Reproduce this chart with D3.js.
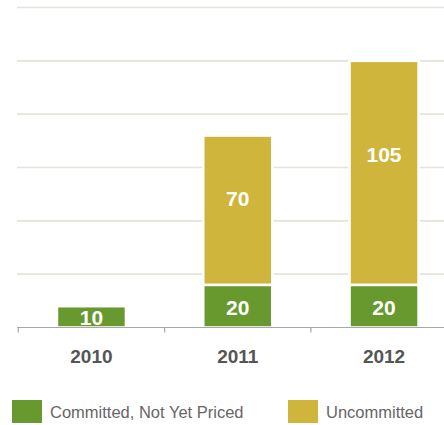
<!DOCTYPE html>
<html>
<head>
<meta charset="utf-8">
<script src="https://cdn.jsdelivr.net/npm/d3@7/dist/d3.min.js"></script>
<style>
  html, body { margin: 0; padding: 0; background: #fff; }
  svg { display: block; font-family: "Liberation Sans", Arial, sans-serif; }
</style>
</head>
<body>
<svg id="chart" width="444" height="425"></svg>
<script>
// Years on the x axis
const years = ["2010", "2011", "2012"];
// Stacked series values
const committed = [10, 20, 20];
const uncommitted = [null, 70, 105];
// Series names for the legend
const seriesNames = ["Committed, Not Yet Priced", "Uncommitted"];
// Gridline values
const gridValues = [25, 50, 75, 100, 125, 150];

const colors = { committed: "#67992f", uncommitted: "#cfb53b" };

const svg = d3.select("#chart");

const x = d3.scaleBand()
  .domain(years)
  .range([18.3, 457.2])
  .paddingInner(0.528)
  .paddingOuter(0.264);

const y = d3.scaleLinear().domain([0, 150]).range([327.5, 7.5]);

// Horizontal gridlines
svg.append("g").selectAll("line")
  .data(gridValues)
  .join("line")
  .attr("x1", 17).attr("x2", 444)
  .attr("y1", d => y(d)).attr("y2", d => y(d))
  .attr("stroke", "#e4e4da")
  .attr("stroke-width", 1.6);

const rows = years.map((yr, i) => ({ year: yr, c: committed[i], u: uncommitted[i] || 0 }));

// Bars: committed at the bottom, uncommitted stacked above; white outline separates segments
const bars = svg.append("g");
bars.selectAll("rect.committed")
  .data(rows)
  .join("rect")
  .attr("class", "committed")
  .attr("x", d => x(d.year))
  .attr("width", x.bandwidth())
  .attr("y", d => y(d.c))
  .attr("height", d => y(0) - y(d.c))
  .attr("fill", colors.committed)
  .attr("stroke", "#fff")
  .attr("stroke-width", 2.6);

bars.selectAll("rect.uncommitted")
  .data(rows.filter(d => d.u > 0))
  .join("rect")
  .attr("class", "uncommitted")
  .attr("x", d => x(d.year))
  .attr("width", x.bandwidth())
  .attr("y", d => y(d.c + d.u))
  .attr("height", d => y(d.c) - y(d.c + d.u))
  .attr("fill", colors.uncommitted)
  .attr("stroke", "#fff")
  .attr("stroke-width", 2.6);

// Value labels
const labels = svg.append("g")
  .attr("fill", "#fff")
  .attr("font-weight", "bold")
  .attr("font-size", 21)
  .attr("text-anchor", "middle");

labels.selectAll("text.c")
  .data(rows)
  .join("text")
  .attr("class", "c")
  .attr("x", d => x(d.year) + x.bandwidth() / 2)
  .attr("y", d => (y(0) + y(d.c)) / 2 + 1)
  .attr("dominant-baseline", "central")
  .text(d => d.c);

labels.selectAll("text.u")
  .data(rows.filter(d => d.u > 0))
  .join("text")
  .attr("class", "u")
  .attr("x", d => x(d.year) + x.bandwidth() / 2)
  .attr("y", d => y(d.c + d.u) + 0.42 * (y(d.c) - y(d.c + d.u)))
  .attr("dominant-baseline", "central")
  .text(d => d.u);

// Baseline axis with ticks at category boundaries
const axis = svg.append("g");
axis.append("line")
  .attr("x1", 17).attr("x2", 444)
  .attr("y1", y(0)).attr("y2", y(0))
  .attr("stroke", "#a8a8a8").attr("stroke-width", 1.2);
axis.selectAll("line.tick")
  .data(d3.range(years.length + 1))
  .join("line")
  .attr("class", "tick")
  .attr("x1", i => x.range()[0] + i * x.step())
  .attr("x2", i => x.range()[0] + i * x.step())
  .attr("y1", y(0)).attr("y2", y(0) + 5)
  .attr("stroke", "#a8a8a8").attr("stroke-width", 1.2);

axis.selectAll("text")
  .data(years)
  .join("text")
  .attr("x", d => x(d) + x.bandwidth() / 2)
  .attr("y", 356)
  .attr("dominant-baseline", "central")
  .attr("text-anchor", "middle")
  .attr("font-size", 19)
  .attr("font-weight", "bold")
  .attr("fill", "#555")
  .text(d => d);

// Legend
const legendItems = [
  { name: seriesNames[0], color: colors.committed, x: 12 },
  { name: seriesNames[1], color: colors.uncommitted, x: 288 }
];
const legend = svg.append("g").selectAll("g")
  .data(legendItems)
  .join("g")
  .attr("transform", d => `translate(${d.x},400)`);
legend.append("rect")
  .attr("width", 30).attr("height", 23)
  .attr("fill", d => d.color);
legend.append("text")
  .attr("x", 38).attr("y", 12)
  .attr("dominant-baseline", "central")
  .attr("font-size", 16.5)
  .attr("fill", "#666")
  .text(d => d.name);
</script>
</body>
</html>
